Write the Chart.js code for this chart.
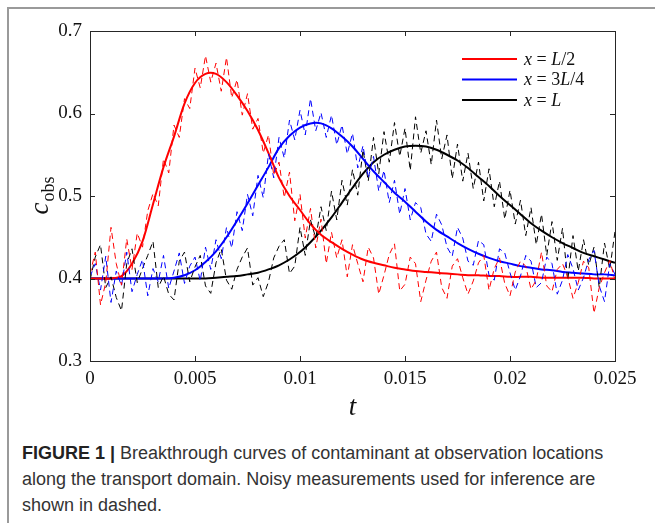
<!DOCTYPE html>
<html>
<head>
<meta charset="utf-8">
<script src="https://cdn.jsdelivr.net/npm/chart.js@4.4.1/dist/chart.umd.min.js"></script>
<style>
  body { margin: 0; background: #fff; }
  #wrap { position: relative; width: 655px; height: 523px; overflow: hidden; }
  #frame { position: absolute; left: 7px; top: 7px; width: 700px; height: 600px; border-left: 2px solid #9a9a9a; border-top: 2px solid #9a9a9a; }
  #box { position: absolute; left: 0; top: 0; width: 655px; height: 430px; }
  #caption { position: absolute; left: 22px; top: 440px; width: 615px; font-family: "Liberation Sans", Arial, sans-serif; font-size: 18px; line-height: 26px; color: #333; }
  #caption b { font-weight: bold; color: #222; }
</style>
</head>
<body>
<div id="wrap">
  <div id="frame"></div>
  <div id="box"><canvas id="chart"></canvas></div>
  <div id="caption"><b>FIGURE 1 |</b> Breakthrough curves of contaminant at observation locations along the transport domain. Noisy measurements used for inference are shown in dashed.</div>
</div>
<script>
// smooth curves, t step 0.0005
var tSmooth = [0,0.0005,0.001,0.0015,0.002,0.0025,0.003,0.0035,0.004,0.0045,0.005,0.0055,0.006,0.0065,0.007,0.0075,0.008,0.0085,0.009,0.0095,0.01,0.0105,0.011,0.0115,0.012,0.0125,0.013,0.0135,0.014,0.0145,0.015,0.0155,0.016,0.0165,0.017,0.0175,0.018,0.0185,0.019,0.0195,0.02,0.0205,0.021,0.0215,0.022,0.0225,0.023,0.0235,0.024,0.0245,0.025];
var redSmooth = [0.400,0.400,0.400,0.403,0.418,0.445,0.490,0.535,0.572,0.612,0.637,0.648,0.648,0.638,0.622,0.603,0.580,0.552,0.522,0.500,0.483,0.466,0.453,0.444,0.436,0.429,0.423,0.419,0.416,0.413,0.411,0.409,0.408,0.407,0.406,0.405,0.404,0.404,0.403,0.403,0.402,0.402,0.402,0.401,0.401,0.401,0.401,0.401,0.400,0.400,0.400];
var blueSmooth = [0.400,0.400,0.400,0.400,0.400,0.400,0.400,0.400,0.401,0.404,0.410,0.420,0.433,0.450,0.470,0.491,0.513,0.535,0.558,0.573,0.583,0.588,0.588,0.582,0.572,0.560,0.545,0.530,0.517,0.504,0.493,0.481,0.469,0.459,0.451,0.443,0.436,0.430,0.425,0.421,0.418,0.415,0.413,0.411,0.410,0.408,0.407,0.406,0.405,0.405,0.404];
var blackSmooth = [0.400,0.400,0.400,0.400,0.400,0.400,0.400,0.400,0.400,0.400,0.400,0.400,0.401,0.402,0.403,0.405,0.407,0.411,0.416,0.423,0.432,0.444,0.458,0.474,0.492,0.510,0.527,0.541,0.550,0.556,0.560,0.561,0.560,0.556,0.550,0.543,0.534,0.523,0.512,0.500,0.489,0.478,0.467,0.458,0.450,0.443,0.437,0.431,0.427,0.423,0.419];

// noisy measurements, t step 0.00025
var tNoisy = [];
for (var i = 0; i <= 100; i++) tNoisy.push(i * 0.00025);
var redNoisy = [0.405,0.432,0.368,0.395,0.462,0.418,0.392,0.448,0.411,0.455,0.438,0.482,0.503,0.488,0.545,0.528,0.586,0.571,0.618,0.606,0.655,0.631,0.670,0.638,0.661,0.627,0.668,0.619,0.641,0.598,0.624,0.581,0.594,0.552,0.574,0.525,0.541,0.498,0.529,0.470,0.502,0.449,0.485,0.437,0.472,0.418,0.456,0.425,0.447,0.402,
    0.441,0.418,0.396,0.438,0.425,0.381,0.404,0.429,0.442,0.385,0.393,0.426,0.418,0.372,0.398,0.421,0.432,0.389,0.376,0.415,0.424,0.401,0.381,0.397,0.419,0.428,0.386,0.412,0.425,0.394,0.379,0.408,0.421,0.415,0.387,0.398,0.432,0.391,0.384,0.411,0.418,0.402,0.376,0.395,0.421,0.413,0.358,0.389,0.407,0.422,0.398];
var blueNoisy = [0.402,0.418,0.386,0.427,0.371,0.409,0.391,0.432,0.384,0.405,0.423,0.379,0.412,0.396,0.428,0.388,0.409,0.431,0.394,0.415,0.426,0.397,0.438,0.411,0.447,0.424,0.462,0.437,0.481,0.458,0.502,0.476,0.525,0.498,0.551,0.522,0.571,0.546,0.592,0.568,0.604,0.574,0.618,0.579,0.601,0.571,0.598,0.562,0.586,0.551,0.576,0.534,0.561,0.522,0.548,0.506,0.531,0.492,0.519,0.478,
    0.509,0.471,0.492,0.486,0.454,0.445,0.478,0.465,0.438,0.427,0.462,0.449,0.421,0.416,0.446,0.441,0.404,0.398,0.436,0.431,0.407,0.386,0.403,0.428,0.421,0.389,0.395,0.426,0.418,0.381,0.398,0.429,0.412,0.386,0.401,0.423,0.434,0.391,0.372,0.418,0.405];
var blackNoisy = [0.398,0.426,0.441,0.389,0.402,0.377,0.361,0.418,0.436,0.395,0.412,0.428,0.445,0.389,0.403,0.381,0.374,0.421,0.432,0.396,0.414,0.428,0.391,0.382,0.419,0.436,0.398,0.387,0.411,0.426,0.437,0.392,0.401,0.378,0.396,0.425,0.439,0.447,0.406,0.415,
    0.462,0.428,0.471,0.449,0.487,0.458,0.506,0.471,0.519,0.489,0.532,0.501,0.556,0.518,0.571,0.527,0.578,0.541,0.589,0.548,0.582,0.531,0.596,0.552,0.579,0.538,0.592,0.545,0.574,0.521,0.563,0.518,0.552,0.509,0.541,0.494,0.533,0.487,0.518,0.472,0.507,0.466,0.495,0.452,0.486,0.441,0.478,0.428,0.469,0.422,0.461,0.398,0.452,0.409,0.447,0.416,0.438,0.389,0.443,0.411,0.457];

var xTicks = [0, 0.005, 0.01, 0.015, 0.02, 0.025];
var xTickLabels = ['0', '0.005', '0.01', '0.015', '0.02', '0.025'];
var yTicks = [0.3, 0.4, 0.5, 0.6, 0.7];
var yTickLabels = ['0.3', '0.4', '0.5', '0.6', '0.7'];
var legendLabels = [['x', ' = ', 'L', '/2'], ['x', ' = 3', 'L', '/4'], ['x', ' = ', 'L', '']];
var colors = ['#ff0000', '#0000ff', '#000000'];

function pts(xs, ys) {
    return ys.map(function (v, i) { return { x: xs[i], y: v }; });
}

var serif = '"Liberation Serif", "DejaVu Serif", serif';

// inner ticks, box, axis titles and legend
var decor = {
    id: 'decor',
    afterDraw: function (chart) {
        var c = chart.ctx;
        var a = chart.chartArea;
        var sx = chart.scales.x, sy = chart.scales.y;
        c.save();
        c.strokeStyle = '#262626';
        c.lineWidth = 1;
        c.beginPath();
        xTicks.forEach(function (v) {
            var px = Math.round(sx.getPixelForValue(v)) + 0.5;
            c.moveTo(px, a.bottom); c.lineTo(px, a.bottom - 5);
            c.moveTo(px, a.top); c.lineTo(px, a.top + 5);
        });
        yTicks.forEach(function (v) {
            var py = Math.round(sy.getPixelForValue(v)) + 0.5;
            c.moveTo(a.left, py); c.lineTo(a.left + 5, py);
            c.moveTo(a.right, py); c.lineTo(a.right - 5, py);
        });
        c.stroke();
        c.strokeRect(Math.round(a.left) + 0.5, Math.round(a.top) + 0.5, Math.round(a.right - a.left), Math.round(a.bottom - a.top));

        c.fillStyle = '#111';
        // x title
        c.font = 'italic 27px ' + serif;
        c.textAlign = 'center';
        c.textBaseline = 'alphabetic';
        c.fillText('t', (a.left + a.right) / 2, a.bottom + 54);

        // y title c_obs
        c.save();
        c.translate(a.left - 42, (a.top + a.bottom) / 2);
        c.rotate(-Math.PI / 2);
        c.textAlign = 'left';
        c.font = 'italic 27px ' + serif;
        var w1 = c.measureText('c').width;
        c.font = '18px ' + serif;
        var w2 = c.measureText('obs').width;
        var x0 = -(w1 + w2) / 2;
        c.font = 'italic 27px ' + serif;
        c.fillText('c', x0, 0);
        c.font = '18px ' + serif;
        c.fillText('obs', x0 + w1 + 1, 6);
        c.restore();

        // legend
        var lx = a.right - 153, ly = a.top + 28;
        legendLabels.forEach(function (parts, k) {
            var y = ly + k * 20.5;
            c.strokeStyle = colors[k];
            c.lineWidth = 2;
            c.beginPath();
            c.moveTo(lx, y); c.lineTo(lx + 55, y);
            c.stroke();
            var x = lx + 62;
            c.textBaseline = 'middle';
            c.textAlign = 'left';
            parts.forEach(function (p, j) {
                c.font = (j % 2 === 0 ? 'italic ' : '') + '18px ' + serif;
                c.fillText(p, x, y + 1);
                x += c.measureText(p).width;
            });
        });
        c.restore();
    }
};

var noisyStyle = { borderWidth: 1, borderDash: [6, 4], pointRadius: 0, tension: 0, fill: false };
var smoothStyle = { borderWidth: 2, pointRadius: 0, tension: 0.3, fill: false };

var datasets = [
    Object.assign({ label: 'red noisy', data: pts(tNoisy, redNoisy), borderColor: colors[0] }, noisyStyle),
    Object.assign({ label: 'blue noisy', data: pts(tNoisy, blueNoisy), borderColor: colors[1] }, noisyStyle),
    Object.assign({ label: 'black noisy', data: pts(tNoisy, blackNoisy), borderColor: colors[2] }, noisyStyle),
    Object.assign({ label: 'x = L/2', data: pts(tSmooth, redSmooth), borderColor: colors[0] }, smoothStyle),
    Object.assign({ label: 'x = 3L/4', data: pts(tSmooth, blueSmooth), borderColor: colors[1] }, smoothStyle),
    Object.assign({ label: 'x = L', data: pts(tSmooth, blackSmooth), borderColor: colors[2] }, smoothStyle)
];

var ctx = document.getElementById('chart').getContext('2d');
var myChart = new Chart(ctx, {
    type: 'line',
    data: { datasets: datasets },
    options: {
        responsive: true,
        maintainAspectRatio: false,
        animation: false,
        layout: { padding: { top: 31, right: 40, left: 0, bottom: 0 } },
        plugins: { legend: { display: false }, tooltip: { enabled: false } },
        scales: {
            x: {
                type: 'linear',
                min: 0, max: 0.025,
                grid: { display: false, drawTicks: false },
                border: { display: false },
                afterBuildTicks: function (s) { s.ticks = xTicks.map(function (v) { return { value: v }; }); },
                afterFit: function (s) { s.height = 69; },
                ticks: {
                    padding: 7,
                    color: '#111',
                    font: { family: serif, size: 19 },
                    maxRotation: 0,
                    callback: function (v, i) { return xTickLabels[i]; }
                }
            },
            y: {
                type: 'linear',
                min: 0.3, max: 0.7,
                grid: { display: false, drawTicks: false },
                border: { display: false },
                afterBuildTicks: function (s) { s.ticks = yTicks.map(function (v) { return { value: v }; }); },
                afterFit: function (s) { s.width = 90; },
                ticks: {
                    padding: 8,
                    color: '#111',
                    font: { family: serif, size: 19 },
                    callback: function (v, i) { return yTickLabels[i]; }
                }
            }
        }
    },
    plugins: [decor]
});
</script>
</body>
</html>
